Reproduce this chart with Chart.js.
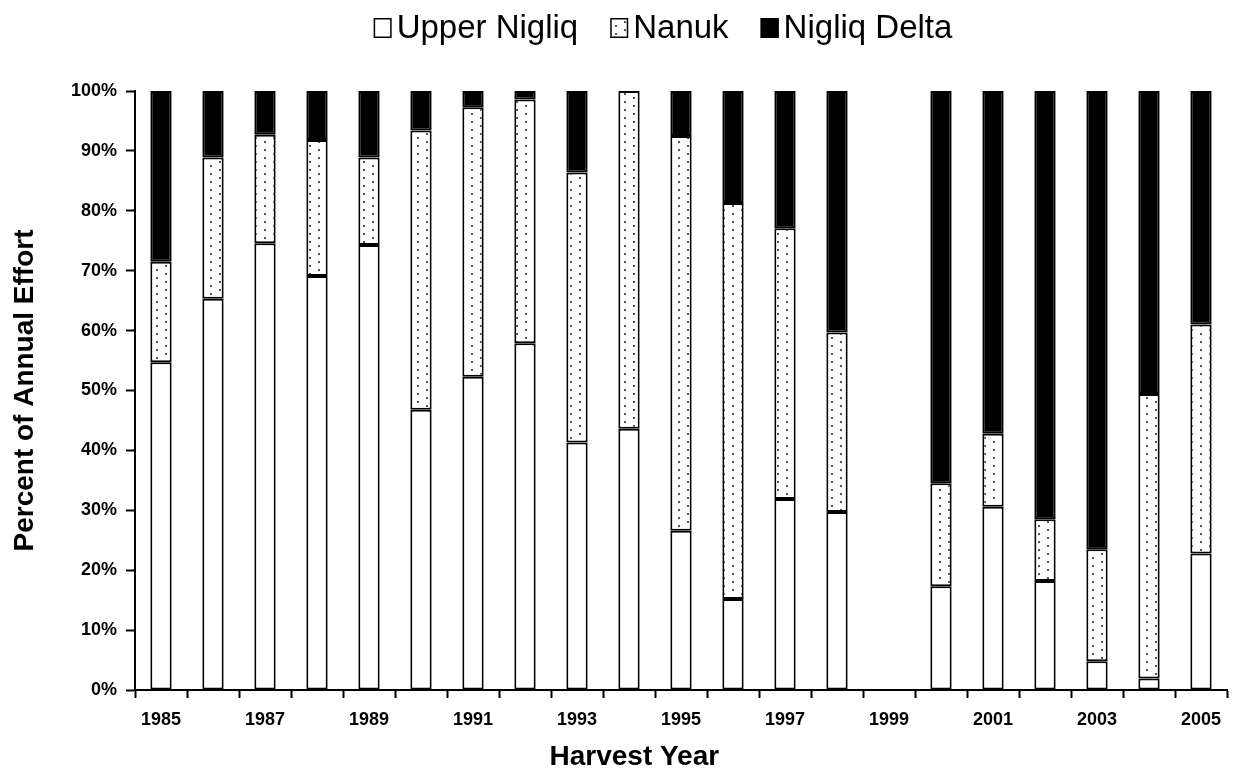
<!DOCTYPE html>
<html lang="en">
  <head>
    <meta charset="utf-8" />
    <title>Percent of Annual Effort</title>
    <style>
      * {
        margin: 0;
        padding: 0;
      }
      body {
        background: #fff;
      }
      .chartBox {
        width: 1235px;
        height: 781px;
      }
    </style>
  </head>
  <body>
    <div class="chartBox">
      <canvas id="myChart"></canvas>
    </div>

    <script src="https://cdn.jsdelivr.net/npm/chart.js"></script>

    <script>
      const years = ["1985", "1986", "1987", "1988", "1989", "1990", "1991", "1992", "1993", "1994",
        "1995", "1996", "1997", "1998", "1999", "2000", "2001", "2002", "2003", "2004", "2005"];
      const upperNigliq = [54.7, 65.3, 74.6, 69.1, 74.3, 46.8, 52.3, 57.9, 41.3, 43.6,
        26.6, 15.2, 31.9, 29.7, null, 17.3, 30.6, 18.2, 4.8, 1.9, 22.8];
      const nanuk = [16.8, 23.6, 18.1, 22.7, 14.6, 46.6, 45.0, 40.7, 45.1, 56.4,
        65.9, 66.1, 45.2, 30.0, null, 17.2, 12.2, 10.3, 18.7, 47.5, 38.2];
      const nigliqDelta = [28.5, 11.1, 7.3, 8.2, 11.1, 6.6, 2.7, 1.4, 13.6, 0,
        7.5, 18.7, 22.9, 40.3, null, 65.5, 57.2, 71.5, 76.5, 50.6, 39.0];

      // dotted fill like the old excel 5% pattern
      const makeDots = () => {
        const c = document.createElement("canvas");
        c.width = 18;
        c.height = 8;
        const g = c.getContext("2d");
        g.fillStyle = "#fff";
        g.fillRect(0, 0, 18, 8);
        g.fillStyle = "#555";
        g.fillRect(3, 1, 2, 2);
        g.fillRect(12, 5, 2, 2);
        return g.createPattern(c, "repeat");
      };
      const dots = makeDots();

      const FONT = "'Liberation Sans', Arial, sans-serif";

      // legend drawn by hand: small box, tight gap, big text, sitting up top
      const boxLegend = {
        id: "boxLegend",
        afterDraw(chart) {
          const ctx = chart.ctx;
          ctx.save();
          ctx.font = "33px " + FONT;
          ctx.textBaseline = "middle";
          const items = chart.data.datasets.map((ds) => ({
            label: ds.label,
            fill: ds.backgroundColor,
            w: ctx.measureText(ds.label).width,
          }));
          const bw = 18, bh = 20, gap = 5, sep = 32;
          const total = items.reduce((s, it) => s + bw + gap + it.w, 0) + sep * (items.length - 1);
          let x = 663 - total / 2;
          items.forEach((it) => {
            ctx.fillStyle = it.fill;
            ctx.fillRect(x, 18, bw, bh);
            ctx.strokeStyle = "#000";
            ctx.lineWidth = 1.5;
            ctx.strokeRect(x + 0.75, 18.75, bw - 1.5, bh - 1.5);
            ctx.fillStyle = "#000";
            ctx.fillText(it.label, x + bw + gap, 28.5);
            x += bw + gap + it.w + sep;
          });
          ctx.restore();
        },
      };

      const data = {
        labels: years,
        datasets: [
          {
            label: "Upper Nigliq",
            data: upperNigliq,
            backgroundColor: "#fff",
          },
          {
            label: "Nanuk",
            data: nanuk,
            backgroundColor: dots,
          },
          {
            label: "Nigliq Delta",
            data: nigliqDelta,
            backgroundColor: "#000",
          },
        ],
      };

      const config = {
        type: "bar",
        data: data,
        plugins: [boxLegend],
        options: {
          responsive: true,
          maintainAspectRatio: false,
          animation: false,
          layout: { padding: { left: 0, right: 8, top: 91, bottom: 0 } },
          datasets: {
            bar: {
              borderColor: "#000",
              borderWidth: 2,
              borderSkipped: false,
              categoryPercentage: 1,
              barPercentage: 0.41,
            },
          },
          plugins: {
            tooltip: { enabled: false },
            legend: { display: false },
          },
          scales: {
            x: {
              stacked: true,
              border: { color: "#000", width: 2 },
              grid: {
                offset: true,
                drawOnChartArea: false,
                drawTicks: true,
                tickLength: 8,
                tickWidth: 2,
                tickColor: "#000",
              },
              ticks: {
                color: "#000",
                autoSkip: false,
                maxRotation: 0,
                padding: 11,
                font: { family: FONT, size: 18, weight: "bold" },
                callback: function (v, i) {
                  return i % 2 === 0 ? this.getLabelForValue(v) : "";
                },
              },
              title: {
                display: true,
                // trailing spaces nudge the centred title left, like the original
                text: "Harvest Year            ",
                color: "#000",
                font: { family: FONT, size: 28, weight: "bold" },
                padding: { top: 0, bottom: 7 },
              },
              afterFit: (s) => {
                s.height = 91;
              },
            },
            y: {
              stacked: true,
              min: 0,
              max: 100,
              border: { color: "#000", width: 2 },
              grid: {
                drawOnChartArea: false,
                drawTicks: true,
                tickLength: 9,
                tickWidth: 2,
                tickColor: "#000",
              },
              ticks: {
                color: "#000",
                stepSize: 10,
                padding: 9,
                font: { family: FONT, size: 18, weight: "bold" },
                callback: (v) => v + "%",
              },
              title: {
                display: true,
                text: "Percent of Annual Effort",
                color: "#000",
                font: { family: FONT, size: 28, weight: "bold" },
                padding: { top: 8, bottom: 0 },
              },
              afterFit: (s) => {
                s.width = 135;
              },
            },
          },
        },
      };

      const myChart = new Chart(document.getElementById("myChart"), config);
    </script>
  </body>
</html>
